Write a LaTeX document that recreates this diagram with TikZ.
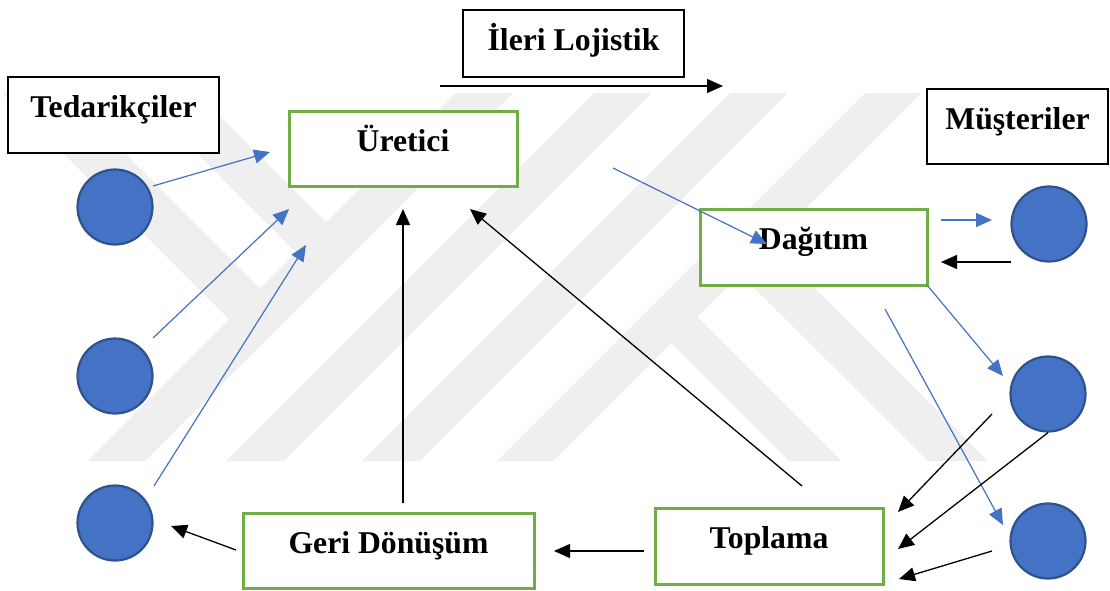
\documentclass[tikz,border=0pt]{standalone}
\usepackage{fontspec}
\setmainfont{Liberation Serif}
\usetikzlibrary{arrows.meta}
\definecolor{nodeblue}{HTML}{4472C4}
\definecolor{ringblue}{HTML}{2F528F}
\definecolor{boxgreen}{HTML}{70AD47}
\definecolor{markgrey}{RGB}{239,239,239}

\begin{document}
\begin{tikzpicture}[x=1pt,y=-1pt,
  lbl/.style={font=\fontsize{31.7}{36}\selectfont\bfseries},
  box/.style={draw=black, fill=white, line width=1.6pt, inner xsep=0pt, inner ysep=0pt,
              outer sep=0pt, anchor=north west, text height=40pt, lbl},
  gbox/.style={box, draw=boxgreen, line width=3pt},
  dot/.style={circle, fill=nodeblue, draw=ringblue, line width=2.2pt, minimum size=75pt, inner sep=0pt},
  barrow/.style={draw=nodeblue, line width=1.2pt, -{Triangle[length=16pt,width=14pt]}},
  karrow/.style={draw=black, line width=1.3pt, -{Triangle[length=16pt,width=14pt]}},
  band/.style={fill=markgrey}
]
\useasboundingbox (0,0) rectangle (1110,590);
\fill[white] (0,0) rectangle (1110,590);

% faint striped emblem in the background
\fill[band] (455,93) -- (513,93) -- (145,461) -- (87,461) -- cycle;
\fill[band] (594,93) -- (652,93) -- (284,461) -- (226,461) -- cycle;
\fill[band] (730,93) -- (788,93) -- (420,461) -- (362,461) -- cycle;
\fill[band] (865,93) -- (921,93) -- (553,461) -- (497,461) -- cycle;
\fill[band] (137,93) -- (197,93) -- (332,228) -- (302,258) -- cycle;
\fill[band] (3,93) -- (65,93) -- (266,294) -- (235,325) -- cycle;
\fill[band] (664,336) -- (690,310) -- (841,461) -- (789,461) -- cycle;
\fill[band] (733,267) -- (763,237) -- (988,461) -- (928,461) -- cycle;

% text boxes
\node[box, minimum width=221pt, text depth=27pt] (ileri) at (463,10) {İleri Lojistik};
\node[box, minimum width=211pt, text depth=36pt] (tedarik) at (8,77) {Tedarikçiler};
\node[box, minimum width=181pt, text depth=35pt] (musteri) at (927,89) {Müşteriler};
\node[gbox, minimum width=228pt, text depth=35pt] (uretici) at (289,111) {Üretici};
\node[gbox, minimum width=227pt, text depth=36pt] (dagitim) at (700,209) {Dağıtım};
\node[gbox, minimum width=291pt, text depth=35pt] (geri) at (243,513) {Geri Dönüşüm};
\node[gbox, minimum width=228pt, text depth=36pt] (toplama) at (655,508) {Toplama};

% suppliers and customers
\node[dot] (s1) at (115,207) {};
\node[dot] (s2) at (115,376) {};
\node[dot] (s3) at (115,523) {};
\node[dot] (m1) at (1049,224) {};
\node[dot] (m2) at (1048,394) {};
\node[dot] (m3) at (1048,541) {};

% free connector ends
\coordinate (fw1) at (440,86);   \coordinate (fw2) at (723,86);
\coordinate (a1s) at (153,186);  \coordinate (a1e) at (270,152);
\coordinate (a2s) at (153,338);  \coordinate (a2e) at (289,209);
\coordinate (a3s) at (154,486);  \coordinate (a3e) at (306,245);
\coordinate (ds) at (613,168);   \coordinate (de) at (767,244);
\coordinate (m1in) at (941,220); \coordinate (m1it) at (992,220);
\coordinate (m1os) at (1011,262);\coordinate (m1ot) at (941,262);
\coordinate (m2t) at (1003,376);
\coordinate (m3s) at (885,309);  \coordinate (m3t) at (1003,525);
\coordinate (vs) at (403,503);   \coordinate (vt) at (403,209);
\coordinate (js) at (802,486);   \coordinate (jt) at (470,209);
\coordinate (ks) at (644,551);   \coordinate (kt) at (554,551);
\coordinate (ls) at (236,550);   \coordinate (lt) at (171,526);
\coordinate (r1s) at (992,414);  \coordinate (r1t) at (898,512);
\coordinate (r2t) at (898,549);
\coordinate (r3s) at (992,551);  \coordinate (r3t) at (899,579);

% forward flow
\draw[karrow] (fw1) -- (fw2);
\draw[barrow] (a1s) -- (a1e);
\draw[barrow] (a2s) -- (a2e);
\draw[barrow] (a3s) -- (a3e);
\draw[barrow] (ds) -- (de);
\draw[barrow] (m1in) -- (m1it);
\draw[barrow] (dagitim.south east) -- (m2t);
\draw[barrow] (m3s) -- (m3t);

% reverse flow
\draw[karrow] (m1os) -- (m1ot);
\draw[karrow] (vs) -- (vt);
\draw[karrow] (js) -- (jt);
\draw[karrow] (ks) -- (kt);
\draw[karrow] (ls) -- (lt);
\draw[karrow] (r1s) -- (r1t);
\draw[karrow] (m2.south) -- (r2t);
\draw[karrow] (r3s) -- (r3t);
\end{tikzpicture}
\end{document}
